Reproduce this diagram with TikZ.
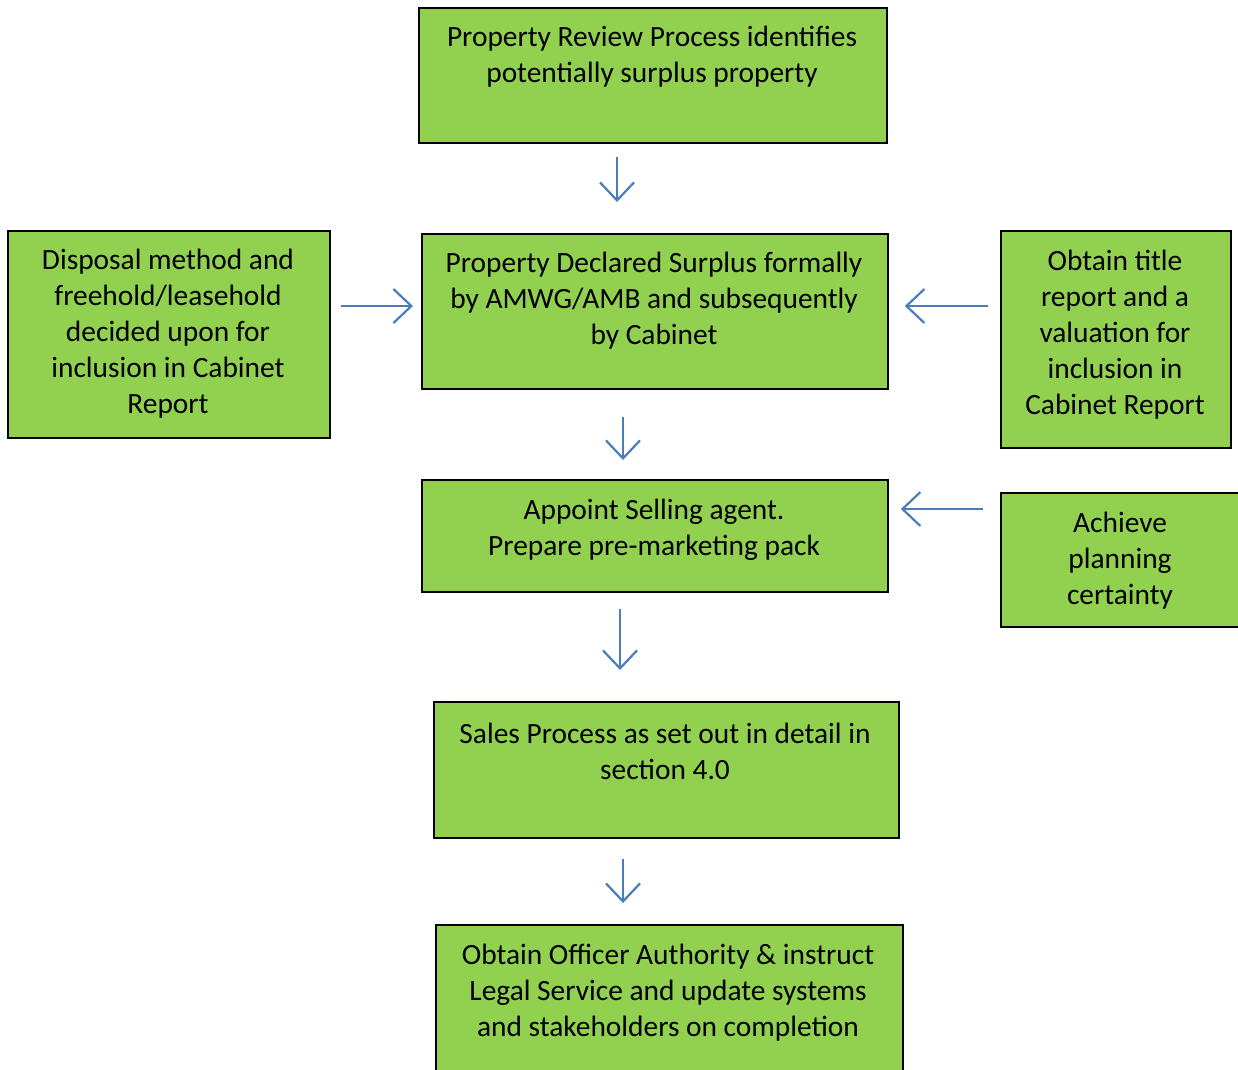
\documentclass[tikz,border=0pt]{standalone}
\usepackage{fontspec}
\setmainfont{Carlito}
\usetikzlibrary{arrows.meta}
\definecolor{boxgreen}{HTML}{92D050}
\definecolor{arrblue}{HTML}{4A7EBB}
\tikzset{
  box/.style={draw=black, line width=1.8pt, fill=boxgreen, anchor=north west, inner sep=0pt},
  txt/.style={align=center, inner sep=0pt, font=\fontsize{29.4}{36}\selectfont, text=black},
  arr/.style={draw=arrblue, line width=2.2pt, -{Straight Barb[length=18pt, width=34pt, line width=2.2pt]}}
}
\begin{document}
\begin{tikzpicture}[x=1pt,y=-1pt]
\useasboundingbox (0,0) rectangle (1238,1069);
% boxes
\node[box, minimum width=468pt, minimum height=135pt] (n1) at (418,7) {};
\node[box, minimum width=322pt, minimum height=207pt] (n2) at (7,230) {};
\node[box, minimum width=466pt, minimum height=155pt] (n3) at (421,233) {};
\node[box, minimum width=230pt, minimum height=217pt] (n4) at (1000,230) {};
\node[box, minimum width=466pt, minimum height=112pt] (n5) at (421,479) {};
\node[box, minimum width=260pt, minimum height=134pt] (n6) at (1000,492) {};
\node[box, minimum width=465pt, minimum height=136pt] (n7) at (433,701) {};
\node[box, minimum width=467pt, minimum height=170pt] (n8) at (435,924) {};
% texts
\node[txt] (t1) at (652,57) {Property Review Process identifies\\potentially surplus property};
\node[txt] (t2) at (168,334) {Disposal method and\\freehold/leasehold\\decided upon for\\inclusion in Cabinet\\Report};
\node[txt] (t3) at (654,301) {Property Declared Surplus formally\\by AMWG/AMB and subsequently\\by Cabinet};
\node[txt] (t4) at (1115,335) {Obtain title\\report and a\\valuation for\\inclusion in\\Cabinet Report};
\node[txt] (t5) at (654,530) {Appoint Selling agent.\\Prepare pre-marketing pack};
\node[txt] (t6) at (1120,560.5) {Achieve\\planning\\certainty};
\node[txt] (t7) at (665,751) {Sales Process as set out in detail in\\section 4.0};
\node[txt] (t8) at (668,993) {Obtain Officer Authority \& instruct\\Legal Service and update systems\\and stakeholders on completion};
% arrow guide coordinates
\coordinate (c1) at (617,0);
\coordinate (c2) at (623,0);
\coordinate (c3) at (620,0);
\coordinate (c4) at (623,0);
\coordinate (r1) at (0,306);
\coordinate (r2) at (0,509);
% arrows
\draw[arr, shorten <=13pt, shorten >=31pt] (n1.south -| c1) -- (n3.north -| c1);
\draw[arr, shorten <=10pt, shorten >=8pt] (n2.east |- r1) -- (n3.west |- r1);
\draw[arr, shorten <=12pt, shorten >=16pt] (n4.west |- r1) -- (n3.east |- r1);
\draw[arr, shorten <=27pt, shorten >=19pt] (n3.south -| c2) -- (n5.north -| c2);
\draw[arr, shorten <=17pt, shorten >=12pt] (n6.west |- r2) -- (n5.east |- r2);
\draw[arr, shorten <=16pt, shorten >=31pt] (n5.south -| c3) -- (n7.north -| c3);
\draw[arr, shorten <=20pt, shorten >=21pt] (n7.south -| c4) -- (n8.north -| c4);
\end{tikzpicture}
\end{document}
